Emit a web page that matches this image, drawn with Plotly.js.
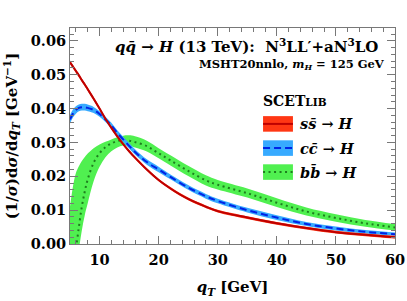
<!DOCTYPE html>
<html>
<head>
<meta charset="utf-8">
<script src="https://cdn.plot.ly/plotly-3.0.1.min.js"></script>
<style>html,body{margin:0;padding:0;background:#fff;}#chart{width:407px;height:301px;}</style>
</head>
<body>
<div id="chart"></div>
<script>
// ---- data ----
const qT = [5, 5.5, 6, 6.5, 7, 7.5, 8, 9, 10, 11, 12, 13, 14, 15, 16, 18, 20, 22, 25, 28, 30, 35, 40, 45, 50, 55, 60];

const ssCentral = [0.0537,0.0524,0.0511,0.0498,0.0484,0.0471,0.0457,0.0429,0.0400,0.0370,0.0343,0.0318,0.0295,0.0274,0.0255,0.0220,0.0189,0.0164,0.0133,0.0110,0.0097,0.0078,0.0061,0.0047,0.0035,0.0027,0.0020];
const ssLow     = [0.0532,0.0519,0.0506,0.0493,0.0479,0.0466,0.0452,0.0424,0.0395,0.0366,0.0339,0.0314,0.0291,0.0270,0.0251,0.0216,0.0185,0.0160,0.0129,0.0106,0.0093,0.0074,0.0057,0.0043,0.0031,0.0023,0.0016];
const ssHigh    = [0.0542,0.0529,0.0516,0.0503,0.0489,0.0476,0.0462,0.0434,0.0405,0.0374,0.0347,0.0322,0.0299,0.0278,0.0259,0.0224,0.0193,0.0168,0.0137,0.0114,0.0101,0.0082,0.0065,0.0051,0.0039,0.0031,0.0024];

const ccCentral = [0.0368,0.0385,0.0396,0.0402,0.0404,0.0404,0.0402,0.0396,0.0384,0.0368,0.0350,0.0328,0.0309,0.0290,0.0272,0.0242,0.0220,0.0198,0.0167,0.0141,0.0127,0.0100,0.0078,0.0059,0.0046,0.0036,0.0029];
const ccLow     = [0.0356,0.0374,0.0385,0.0392,0.0394,0.0394,0.0392,0.0387,0.0376,0.0360,0.0342,0.0320,0.0301,0.0282,0.0264,0.0234,0.0212,0.0191,0.0160,0.0134,0.0120,0.0093,0.0071,0.0053,0.0040,0.0031,0.0024];
const ccHigh    = [0.0381,0.0397,0.0407,0.0412,0.0414,0.0414,0.0412,0.0405,0.0392,0.0376,0.0358,0.0336,0.0317,0.0298,0.0280,0.0250,0.0228,0.0205,0.0174,0.0148,0.0134,0.0107,0.0085,0.0065,0.0052,0.0041,0.0034];

const bbCentral = [-0.0090,-0.0050,-0.0012,0.0050,0.0110,0.0155,0.0191,0.0240,0.0268,0.0286,0.0297,0.0304,0.0306,0.0305,0.0301,0.0289,0.0268,0.0247,0.0216,0.0188,0.0175,0.0150,0.0122,0.0096,0.0077,0.0061,0.0049];
const bbLow     = [-0.0300,-0.0220,-0.0120,-0.0020,0.0040,0.0085,0.0120,0.0185,0.0228,0.0256,0.0274,0.0285,0.0291,0.0290,0.0285,0.0273,0.0253,0.0232,0.0201,0.0173,0.0161,0.0137,0.0109,0.0084,0.0066,0.0051,0.0040];
const bbHigh    = [0.0110,0.0170,0.0210,0.0230,0.0245,0.0257,0.0267,0.0283,0.0294,0.0302,0.0309,0.0315,0.0320,0.0321,0.0318,0.0305,0.0283,0.0262,0.0231,0.0203,0.0189,0.0164,0.0135,0.0108,0.0088,0.0071,0.0059];

const seriesLabels = ['<i>s</i><i>s̄</i> → <i>H</i>', '<i>c</i><i>c̄</i> → <i>H</i>', '<i>b</i><i>b̄</i> → <i>H</i>'];
const legendTitle = 'SCET<span style="font-size:10.5px">LIB</span>';
const titleText = '<i>q</i><i>q̄</i> → <i>H</i> (13 TeV):  N<sup>3</sup>LL′+aN<sup>3</sup>LO';
const subtitleText = 'MSHT20nnlo, <i>m<sub>H</sub></i> = 125 GeV';
const xTitle = '<i>q<sub>T</sub></i> [GeV]';
const yTitle = '(1/<i>σ</i>)d<i>σ</i>/d<i>q<sub>T</sub></i> [GeV<sup>−1</sup>]';

// ---- styles ----
const FONT = 'DejaVu Serif';
const styles = [
  {band: 'rgb(255,55,20)',  line: 'rgb(190,0,0)',   dash: 'solid'},
  {band: 'rgb(55,170,255)', line: 'rgb(0,35,230)',  dash: '7px,4px'},
  {band: 'rgb(80,240,80)',  line: 'rgb(30,125,30)', dash: '2px,3.5px'}
];
const sets = [
  [ssCentral, ssLow, ssHigh],
  [ccCentral, ccLow, ccHigh],
  [bbCentral, bbLow, bbHigh]
];

const traces = [];
[2, 1, 0].forEach(i => {
  const [c, lo, hi] = sets[i];
  const st = styles[i];
  traces.push({x: qT, y: hi, type: 'scatter', mode: 'lines', line: {width: 0, shape: 'spline'}, showlegend: false, hoverinfo: 'skip'});
  traces.push({x: qT, y: lo, type: 'scatter', mode: 'lines', line: {width: 0, shape: 'spline'}, fill: 'tonexty', fillcolor: st.band, showlegend: false, hoverinfo: 'skip'});
  traces.push({x: qT, y: c, type: 'scatter', mode: 'lines', line: {width: 2, color: st.line, dash: st.dash, shape: 'spline'}, showlegend: false});
});

// legend drawn by hand (paper coords)
const shapes = [];
const annotations = [];
const rows = [0.556, 0.444, 0.333];
rows.forEach((yc, i) => {
  const st = styles[i];
  shapes.push({type: 'rect', xref: 'paper', yref: 'paper', x0: 0.594, x1: 0.686, y0: yc - 0.036, y1: yc + 0.036, fillcolor: st.band, line: {width: 0}});
  shapes.push({type: 'line', xref: 'paper', yref: 'paper', x0: 0.594, x1: 0.686, y0: yc, y1: yc, line: {color: st.line, width: 2, dash: st.dash}});
  annotations.push({xref: 'paper', yref: 'paper', x: 0.703, y: yc, xanchor: 'left', yanchor: 'middle', showarrow: false, text: '<b>' + seriesLabels[i] + '</b>', font: {family: FONT, size: 14.5, color: '#000'}});
});
annotations.push({xref: 'paper', yref: 'paper', x: 0.589, y: 0.662, xanchor: 'left', yanchor: 'middle', showarrow: false, text: '<b>' + legendTitle + '</b>', font: {family: FONT, size: 14, color: '#000'}});
annotations.push({xref: 'paper', yref: 'paper', x: 0.955, y: 0.917, xanchor: 'right', yanchor: 'middle', showarrow: false, text: '<b>' + titleText + '</b>', font: {family: FONT, size: 15, color: '#000'}});
annotations.push({xref: 'paper', yref: 'paper', x: 0.975, y: 0.829, xanchor: 'right', yanchor: 'middle', showarrow: false, text: '<b>' + subtitleText + '</b>', font: {family: FONT, size: 11.5, color: '#000'}});

const axisCommon = {
  showgrid: false, zeroline: false, showline: true, linecolor: 'rgb(120,120,120)', linewidth: 1,
  mirror: 'allticks', ticks: 'inside', ticklen: 8, tickcolor: 'rgb(120,120,120)', tickwidth: 1,
  tickfont: {family: FONT, size: 14.5, color: '#000', weight: 'bold'}
};

const layout = {
  width: 407, height: 301,
  margin: {l: 70, r: 12, t: 28, b: 57},
  paper_bgcolor: '#fff', plot_bgcolor: '#fff',
  showlegend: false,
  xaxis: Object.assign({}, axisCommon, {
    range: [5, 60], tick0: 0, dtick: 10, ticklabelstandoff: 3,
    minor: {dtick: 2, tick0: 0, ticks: 'inside', ticklen: 4, tickcolor: 'rgb(120,120,120)'},
    title: {text: '<b>' + xTitle + '</b>', font: {family: FONT, size: 15, color: '#000'}, standoff: 14}
  }),
  yaxis: Object.assign({}, axisCommon, {
    range: [0, 0.0638], tick0: 0, dtick: 0.01, tickformat: '.2f',
    minor: {dtick: 0.002, tick0: 0, ticks: 'inside', ticklen: 4, tickcolor: 'rgb(120,120,120)'},
    title: {text: '<b>' + yTitle + '</b>', font: {family: FONT, size: 15, color: '#000'}, standoff: 9}
  }),
  shapes: shapes,
  annotations: annotations
};

Plotly.newPlot('chart', traces, layout, {staticPlot: true, displayModeBar: false});
</script>
</body>
</html>
